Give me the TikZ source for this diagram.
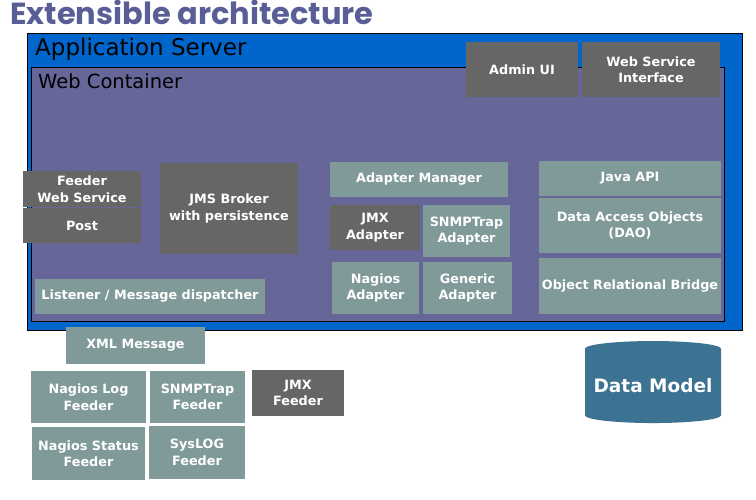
\documentclass[tikz,border=0pt]{standalone}
\usepackage{fontspec}
\setmainfont{DejaVu Sans}
\newfontfamily\titlefont{Poppins}
\usetikzlibrary{shapes.geometric}
\definecolor{appblue}{RGB}{0,102,204}
\definecolor{webpurple}{RGB}{102,102,153}
\definecolor{boxgray}{RGB}{102,102,102}
\definecolor{boxteal}{RGB}{128,153,153}
\definecolor{titleblue}{RGB}{90,94,150}
\definecolor{dbblue}{RGB}{60,114,146}
\newcommand{\bx}[7]{%
  \node[#6, minimum width={(#4-#2)*1pt}, minimum height={(#5-#3)*1pt}]
    (#1) at ({(#2+#4)/2},{(#3+#5)/2}) {#7};}
\begin{document}
\begin{tikzpicture}[x=1pt,y=-1pt,
  box/.style={rectangle, inner sep=0pt, outer sep=0pt, align=center,
    text=white, font=\fontsize{12.8}{16.5}\selectfont\bfseries},
  graybox/.style={box, fill=boxgray},
  tealbox/.style={box, fill=boxteal},
  frame/.style={rectangle, inner sep=0pt, outer sep=0pt, draw=black, line width=0.8pt}]
\useasboundingbox[fill=white] (0,0) rectangle (756,500);
% title
\node[anchor=north west, inner sep=0pt, text=titleblue, font=\titlefont\fontsize{30.5}{34}\selectfont\bfseries] (title) at (10,0) {Extensible architecture};
% application server
\bx{appserver}{27}{33}{742}{330}{frame, fill=appblue}{}
\node[anchor=north west, inner sep=0pt, font=\fontsize{23}{26}\selectfont] (applabel) at (35,38) {Application Server};
% web container
\bx{webcont}{31}{67}{724}{321}{frame, fill=webpurple}{}
\node[anchor=north west, inner sep=0pt, font=\fontsize{19.5}{22}\selectfont] (weblabel) at (38,73) {Web Container};
% boxes
\bx{admin}{466}{42}{578}{97}{graybox}{Admin UI}
\bx{wsi}{582}{42}{720}{97}{graybox}{Web Service\\Interface}
\bx{feederws}{23}{171}{141}{207}{graybox}{Feeder\\Web Service}
\bx{post}{23}{208}{141}{243}{graybox}{Post}
\bx{jms}{160}{163}{298}{254}{graybox}{JMS Broker\\with persistence}
\bx{listener}{35}{279}{265}{314}{tealbox}{Listener / Message dispatcher}
\bx{adaptmgr}{330}{162}{508}{197}{tealbox}{Adapter Manager}
\bx{jmxadapt}{330}{205}{420}{250}{graybox}{JMX\\Adapter}
\bx{snmpadapt}{423}{205}{510}{257}{tealbox}{SNMPTrap\\Adapter}
\bx{nagadapt}{332}{262}{419}{314}{tealbox}{Nagios\\Adapter}
\bx{genadapt}{423}{262}{512}{314}{tealbox}{Generic\\Adapter}
\bx{javaapi}{539}{161}{721}{196}{tealbox}{Java API}
\bx{dao}{539}{198}{721}{253}{tealbox}{Data Access Objects\\(DAO)}
\bx{orb}{539}{258}{721}{314}{tealbox}{Object Relational Bridge}
\bx{xmlmsg}{66}{327}{205}{364}{tealbox}{XML Message}
\bx{naglog}{31}{371}{146}{423}{tealbox}{Nagios Log\\Feeder}
\bx{snmpfeed}{150}{371}{245}{423}{tealbox}{SNMPTrap\\Feeder}
\bx{jmxfeed}{252}{370}{344}{416}{graybox}{JMX\\Feeder}
\bx{nagstat}{32}{427}{145}{480}{tealbox}{Nagios Status\\Feeder}
\bx{syslog}{149}{426}{245}{479}{tealbox}{SysLOG\\Feeder}
% data model
\node[cylinder, shape border rotate=90, aspect=0.13, minimum width=136pt, minimum height=82pt,
  inner sep=0pt, outer sep=0pt, fill=dbblue, text=white,
  font=\fontsize{18.5}{20}\selectfont\bfseries] (datamodel) at (653,386) {Data Model};
\end{tikzpicture}
\end{document}
